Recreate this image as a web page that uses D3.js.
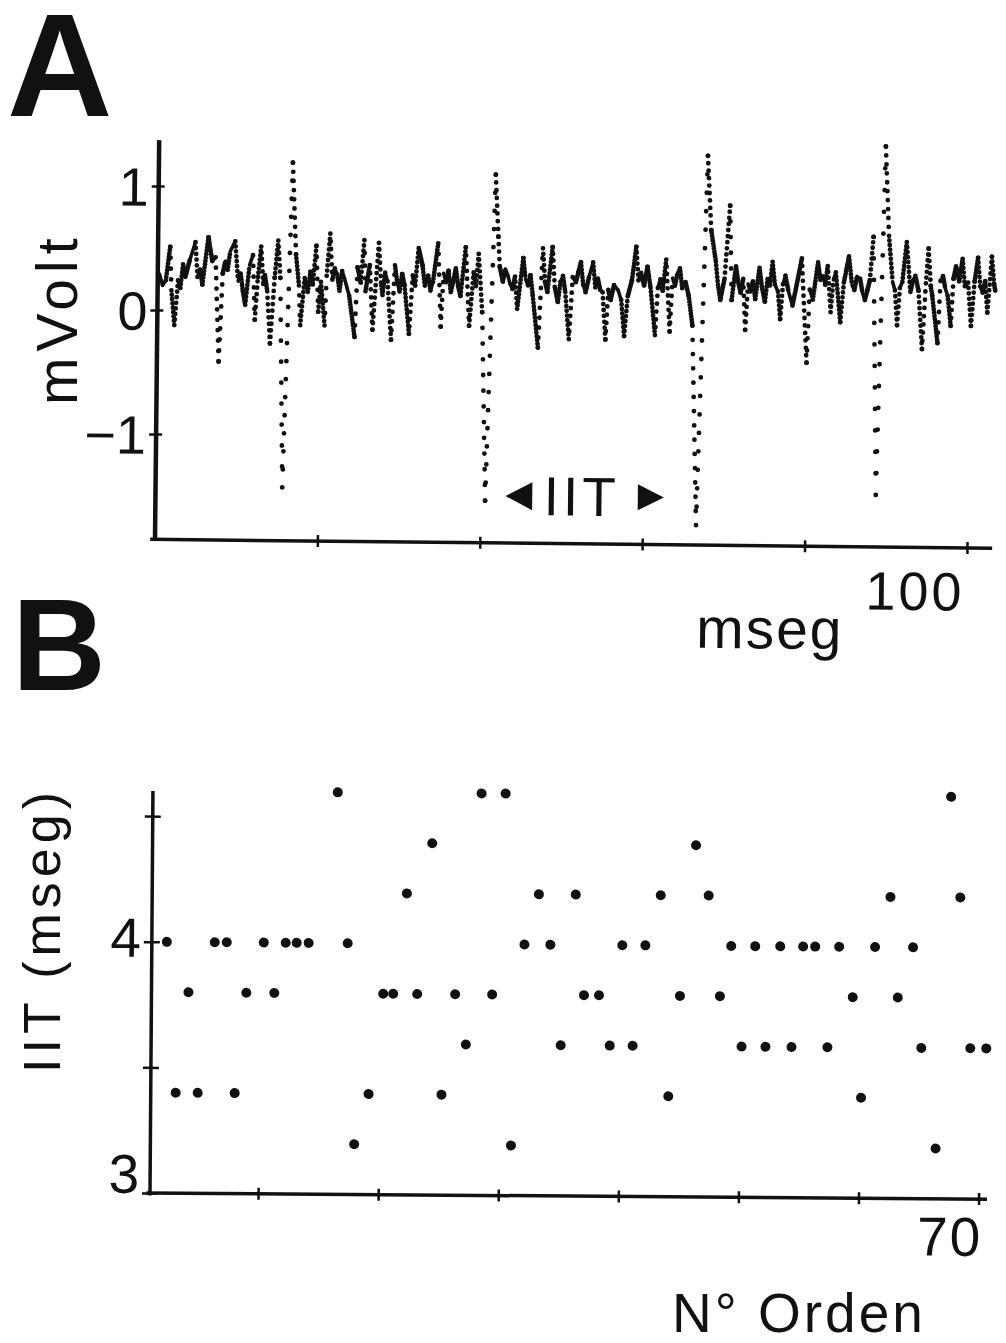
<!DOCTYPE html>
<html>
<head>
<meta charset="utf-8">
<script src="https://cdn.jsdelivr.net/npm/d3@7"></script>
<style>
  body { margin: 0; background: #fff; }
  text { font-family: "Liberation Sans", Arial, Helvetica, sans-serif; fill: #111; }
</style>
</head>
<body>
<div id="fig"></div>
<script>
const traceA = [
  [0.2, 0.29], [0.6, 0.20], [1.0, 0.24], [1.5, 0.51], [1.7, 0.16], [2.1, -0.12], [2.5, 0.24],
  [2.8, 0.18], [3.1, 0.37], [3.4, 0.27], [3.9, 0.40], [4.6, 0.55], [4.9, 0.27], [5.2, 0.33],
  [5.5, 0.21], [6.2, 0.59], [6.7, 0.40], [7.1, 0.43], [7.6, -0.41], [8.0, 0.30], [8.3, 0.40],
  [8.6, 0.33], [8.9, 0.48], [9.5, 0.56], [9.9, 0.24], [10.2, 0.30], [10.5, 0.16], [10.8, 0.05],
  [11.3, 0.37], [11.7, 0.45], [12.0, -0.07], [12.3, 0.24], [12.7, 0.52], [13.0, 0.22], [13.2, 0.29],
  [13.5, 0.16], [13.9, -0.26], [14.4, 0.27], [14.8, 0.57], [15.1, 0.27], [15.6, -1.42], [16.5, 1.20],
  [17.0, 0.46], [17.4, 0.21], [17.6, -0.11], [18.1, 0.27], [18.3, 0.20], [18.5, 0.16], [18.8, 0.32],
  [19.1, 0.22], [19.5, 0.53], [19.8, 0.00], [20.1, 0.24], [20.6, -0.11], [20.8, 0.29], [21.2, 0.63],
  [21.5, 0.26], [21.8, 0.35], [22.1, 0.30], [22.4, 0.17], [22.7, 0.33], [23.0, 0.27], [23.3, 0.20],
  [23.6, 0.13], [24.3, -0.20], [24.6, 0.36], [25.0, 0.24], [25.4, 0.58], [25.6, 0.17], [26.1, 0.38],
  [26.5, -0.14], [26.8, 0.17], [27.2, 0.56], [27.5, 0.24], [27.7, 0.14], [28.0, 0.32], [28.3, 0.25],
  [28.8, -0.22], [29.2, 0.38], [29.5, 0.24], [29.8, 0.17], [30.1, 0.31], [30.4, 0.22], [31.0, -0.17],
  [31.4, 0.30], [31.7, 0.22], [32.1, 0.52], [32.6, 0.38], [32.9, 0.22], [33.3, 0.30], [33.6, 0.18],
  [33.9, 0.25], [34.5, 0.56], [34.9, -0.11], [35.2, 0.32], [35.5, 0.25], [35.8, 0.34], [36.1, 0.17],
  [36.4, 0.26], [36.7, 0.36], [37.0, 0.22], [37.3, 0.14], [37.9, 0.53], [38.4, -0.10], [38.9, 0.33],
  [39.2, 0.22], [39.5, 0.48], [40.0, 0.01], [40.6, -1.51], [41.5, 1.12], [41.9, 0.62], [42.1, 0.38],
  [42.5, 0.26], [42.8, 0.36], [43.1, 0.31], [43.4, 0.24], [43.7, 0.20], [44.0, 0.30], [44.3, 0.04],
  [45.0, 0.45], [45.3, 0.28], [45.6, 0.23], [45.9, 0.31], [46.2, 0.15], [46.9, -0.27], [47.4, 0.53],
  [47.7, 0.26], [48.0, 0.18], [48.6, 0.54], [48.9, 0.22], [49.3, 0.10], [49.6, 0.26], [49.9, 0.31],
  [50.2, 0.18], [50.7, -0.20], [51.1, 0.30], [51.5, 0.26], [51.8, 0.34], [52.1, 0.42], [52.4, 0.24],
  [52.7, 0.18], [53.1, 0.30], [53.6, 0.42], [53.9, 0.22], [54.2, 0.29], [54.5, 0.20], [54.8, 0.18],
  [55.2, -0.20], [55.5, 0.20], [55.8, 0.12], [56.2, 0.24], [56.7, 0.20], [57.1, 0.12], [57.5, -0.17],
  [57.9, 0.15], [58.4, 0.28], [58.9, 0.55], [59.2, 0.28], [59.5, 0.34], [59.9, 0.24], [60.3, 0.39],
  [60.7, 0.22], [61.3, -0.16], [61.6, 0.22], [61.9, 0.29], [62.2, 0.20], [62.6, 0.45], [63.1, -0.13],
  [63.4, 0.30], [63.7, 0.24], [64.0, 0.34], [64.3, 0.38], [64.6, 0.22], [65.0, 0.27], [65.4, 0.16],
  [65.9, -0.08], [66.6, -1.69], [67.6, 1.29], [68.1, 0.69], [68.7, 0.44], [69.0, 0.25], [69.3, 0.13],
  [69.8, 0.30], [70.4, 0.89], [70.7, 0.13], [71.0, 0.30], [71.2, 0.40], [71.5, 0.27], [71.8, 0.19],
  [72.1, 0.30], [72.4, -0.11], [72.7, 0.26], [73.0, 0.20], [73.3, 0.28], [73.6, 0.14], [74.1, 0.39],
  [74.4, 0.24], [74.8, 0.12], [75.1, 0.30], [75.4, 0.25], [75.7, 0.44], [76.0, 0.26], [76.4, 0.20],
  [76.7, -0.02], [77.0, 0.26], [77.3, 0.33], [77.7, 0.20], [78.2, 0.09], [78.7, 0.26], [79.3, 0.47],
  [80.0, -0.37], [80.3, 0.22], [80.7, 0.14], [81.3, 0.44], [81.6, 0.30], [81.9, 0.33], [82.2, 0.26],
  [82.5, 0.41], [82.9, 0.04], [83.2, 0.30], [83.5, 0.36], [84.1, -0.04], [84.5, 0.28], [85.1, 0.49],
  [85.5, 0.26], [85.8, 0.22], [86.1, 0.33], [86.5, 0.31], [86.8, 0.20], [87.1, 0.14], [87.4, 0.22],
  [87.7, 0.30], [88.1, 0.65], [88.7, -1.43], [89.5, 1.38], [90.0, 0.66], [90.5, 0.29], [90.8, 0.22],
  [91.1, -0.06], [91.4, 0.24], [91.7, 0.29], [92.2, 0.61], [92.7, 0.21], [93.0, 0.30], [93.3, 0.34],
  [93.7, 0.22], [94.2, -0.25], [94.6, 0.28], [94.9, 0.56], [95.2, 0.26], [95.4, 0.18], [96.1, -0.20],
  [96.4, 0.30], [96.7, 0.34], [97.0, 0.24], [97.3, 0.18], [97.7, -0.06], [98.0, 0.32], [98.3, 0.42],
  [98.7, 0.30], [99.1, 0.48], [99.4, 0.26], [99.8, 0.29], [100.2, -0.06], [100.6, 0.30], [101.0, 0.49],
  [101.3, 0.26], [101.6, 0.21], [101.9, 0.30], [102.2, 0.05], [102.7, 0.50], [103.0, 0.28], [103.2, 0.21]
];
const voltTicks = [-1, 0, 1];
const timeTicks = [20, 40, 60, 80, 100];

// Panel B: inter-spike interval for each order number
const orderB = [
  2.25, 3.08, 4.08, 4.91, 6.24, 7.24, 7.99, 8.90, 10.32, 11.23, 12.15, 13.06, 14.06,
  16.39, 17.31, 17.97, 19.14, 20.30, 21.13, 22.21, 23.13, 24.29, 25.21, 26.29, 27.21,
  28.37, 29.37, 30.37, 31.03, 32.03, 33.20, 34.19, 35.11, 36.27, 37.02, 38.27, 39.19,
  40.18, 41.10, 42.10, 43.35, 44.10, 45.01, 46.26, 47.34, 48.34, 49.25, 50.17, 51.25,
  52.16, 53.33, 54.33, 55.24, 56.24, 57.32, 58.24, 59.40, 60.15, 61.23, 62.48, 63.15,
  64.39, 65.14, 66.39, 67.47, 68.30, 69.22, 70.55
];
const iitB = [
  4.0, 3.4, 3.8, 3.4, 4.0, 4.0, 3.4, 3.8, 4.0, 3.8, 4.0, 4.0, 4.0,
  4.6, 4.0, 3.2, 3.4, 3.8, 3.8, 4.2, 3.8, 4.4, 3.4, 3.8, 3.6,
  4.6, 3.8, 4.6, 3.2, 4.0, 4.2, 4.0, 3.6, 4.2, 3.8, 3.8, 3.6,
  4.0, 3.6, 4.0, 4.2, 3.4, 3.8, 4.4, 4.2, 3.8, 4.0, 3.6, 4.0,
  3.6, 4.0, 3.6, 4.0, 4.0, 3.6, 4.0, 3.8, 3.4, 4.0, 4.2, 3.8,
  4.0, 3.6, 3.2, 4.6, 4.2, 3.6, 3.6
];
const iitTicks = [3, 3.5, 4, 4.5];
const orderTicks = [10, 20, 30, 40, 50, 60, 70];

const ink = "#111";

const svg = d3.select("#fig")
  .append("svg")
    .attr("width", 1006)
    .attr("height", 1343);

// panel letters
svg.append("text").attr("x", 7).attr("y", 116)
  .style("font-size", "146px").style("font-weight", "bold").text("A");
svg.append("text").attr("x", 12).attr("y", 690)
  .style("font-size", "130px").style("font-weight", "bold").text("B");

// ---------- panel A ----------
const xA = d3.scaleLinear().domain([0, 100]).range([155, 967]);
const yA = d3.scaleLinear().domain([-1, 1]).range([434, 186]);

const gA = svg.append("g").attr("transform", "rotate(0.6, 155, 540)");

// axis lines
gA.append("line")
  .attr("x1", xA(0)).attr("x2", xA(0))
  .attr("y1", yA(1.37)).attr("y2", yA(-1.86))
  .attr("stroke", ink).attr("stroke-width", 4.5);
gA.append("line")
  .attr("x1", xA(-0.6)).attr("x2", xA(103.1))
  .attr("y1", yA(-1.85)).attr("y2", yA(-1.85))
  .attr("stroke", ink).attr("stroke-width", 3.5);

// y ticks
const gAy = gA.append("g")
  .attr("transform", `translate(${xA(0)},0)`)
  .call(d3.axisLeft(yA).tickValues(voltTicks).tickSize(7).tickFormat(""));
gAy.select(".domain").remove();
gAy.selectAll(".tick line").attr("x1", 6).attr("stroke", ink).attr("stroke-width", 2.5);

// x ticks
const gAx = gA.append("g")
  .attr("transform", `translate(0,${yA(-1.85)})`)
  .call(d3.axisBottom(xA).tickValues(timeTicks).tickSize(6).tickFormat(""));
gAx.select(".domain").remove();
gAx.selectAll(".tick line").attr("y1", -6).attr("stroke", ink).attr("stroke-width", 2.5);

// y tick labels
gA.selectAll(".vlab")
  .data(voltTicks)
  .join("text")
    .attr("class", "vlab")
    .attr("x", 145)
    .attr("y", d => yA(d) + 20)
    .attr("text-anchor", "end")
    .style("font-size", "54px")
    .text(d => d < 0 ? "\u2212" + Math.abs(d) : d);

// trace: one path per segment, dotted as if sampled at a fixed rate
const pxPerDot = 0.4;
const segs = d3.pairs(traceA).map(([a, b]) => {
  const p0 = [xA(a[0]), yA(a[1])], p1 = [xA(b[0]), yA(b[1])];
  const len = Math.hypot(p1[0] - p0[0], p1[1] - p0[1]);
  const n = Math.max(1, Math.round(Math.abs(p1[0] - p0[0]) / pxPerDot));
  return {pts: [p0, p1], gap: len / n};
});
const segLine = d3.line();
gA.append("g")
  .selectAll("path")
  .data(segs)
  .join("path")
    .attr("d", d => segLine(d.pts))
    .attr("fill", "none")
    .attr("stroke", ink)
    .attr("stroke-width", d => d.gap < 1.6 ? 3.6 : 4.8)
    .attr("stroke-linecap", "round")
    .attr("stroke-dasharray", d => d.gap < 1.6 ? null : `0 ${d.gap.toFixed(2)}`);

// interval annotation
const arrowY = yA(-1.47);
gA.append("path")
  .attr("d", d3.line()([[xA(43.1), arrowY], [xA(46.4), arrowY - 14], [xA(46.4), arrowY + 14]]) + "Z")
  .attr("fill", ink);
gA.append("path")
  .attr("d", d3.line()([[xA(62.6), arrowY], [xA(59.4), arrowY - 13], [xA(59.4), arrowY + 13]]) + "Z")
  .attr("fill", ink);
gA.append("text")
  .attr("x", xA(47.8)).attr("y", arrowY + 19)
  .style("font-size", "55px").style("letter-spacing", "4px")
  .text("IIT");

// axis texts
gA.append("text")
  .attr("x", xA(100) - 2).attr("y", 602)
  .attr("text-anchor", "end")
  .style("font-size", "54px").style("letter-spacing", "3px")
  .text("100");
gA.append("text")
  .attr("x", 697).attr("y", 642)
  .style("font-size", "57px").style("letter-spacing", "2px")
  .text("mseg");
svg.append("text")
  .attr("transform", "translate(77,405) rotate(-90)")
  .style("font-size", "57px").style("letter-spacing", "6px")
  .text("mVolt");

// ---------- panel B ----------
const xB = d3.scaleLinear().domain([1, 70.7]).range([150, 987]);
const yB = d3.scaleLinear().domain([3, 4.6]).range([1193, 791]);

const gB = svg.append("g").attr("transform", "rotate(0.42, 150, 1193)");

gB.append("line")
  .attr("x1", xB(1)).attr("x2", xB(1))
  .attr("y1", yB(4.6)).attr("y2", yB(2.99))
  .attr("stroke", ink).attr("stroke-width", 3.5);
gB.append("line")
  .attr("x1", xB(0.7)).attr("x2", xB(70.7))
  .attr("y1", yB(3)).attr("y2", yB(3))
  .attr("stroke", ink).attr("stroke-width", 3.5);

const gBy = gB.append("g")
  .attr("transform", `translate(${xB(1)},0)`)
  .call(d3.axisLeft(yB).tickValues(iitTicks).tickSize(8).tickFormat(""));
gBy.select(".domain").remove();
gBy.selectAll(".tick line").attr("x1", 8).attr("stroke", ink).attr("stroke-width", 2.5);

const gBx = gB.append("g")
  .attr("transform", `translate(0,${yB(3)})`)
  .call(d3.axisBottom(xB).tickValues(orderTicks).tickSize(6).tickFormat(""));
gBx.select(".domain").remove();
gBx.selectAll(".tick line").attr("y1", -6).attr("stroke", ink).attr("stroke-width", 2.5);

// y labels: only 3 and 4 are lettered
gB.selectAll(".ilab")
  .data([3, 4])
  .join("text")
    .attr("class", "ilab")
    .attr("x", 139)
    .attr("y", d => d === 3 ? yB(d) : yB(d) + 15)
    .attr("text-anchor", "end")
    .style("font-size", "55px")
    .text(d => d);

// scatter points
gB.append("g")
  .selectAll("circle")
  .data(orderB.map((o, i) => [o, iitB[i]]))
  .join("circle")
    .attr("cx", d => xB(d[0]))
    .attr("cy", d => yB(d[1]))
    .attr("r", 5)
    .attr("fill", ink);

gB.append("text")
  .attr("x", xB(70) + 4).attr("y", 1250)
  .attr("text-anchor", "end")
  .style("font-size", "55px").style("letter-spacing", "2px")
  .text("70");
svg.append("text")
  .attr("x", 672).attr("y", 1332)
  .style("font-size", "55px").style("letter-spacing", "3px")
  .text("N\u00b0 Orden");
svg.append("text")
  .attr("transform", "translate(60,1073) rotate(-90)")
  .style("font-size", "52px").style("letter-spacing", "5px")
  .text("IIT (mseg)");
</script>
</body>
</html>
